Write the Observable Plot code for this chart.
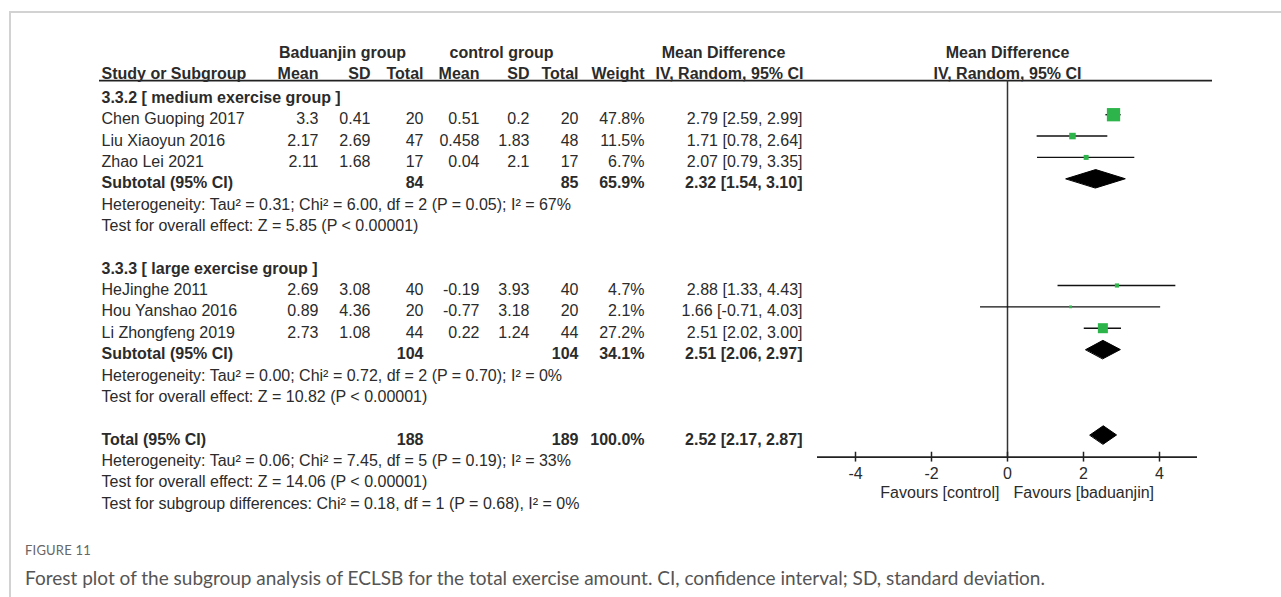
<!DOCTYPE html>
<html><head><meta charset="utf-8">
<script src="https://cdn.jsdelivr.net/npm/d3@7"></script>
<script src="https://cdn.jsdelivr.net/npm/@observablehq/plot@0.6"></script>
<style>
html,body{margin:0;padding:0;background:#fff;}
body{width:1281px;height:597px;overflow:hidden;position:relative;}
#frame{position:absolute;left:9px;top:11px;width:1290px;height:600px;border-top:2px solid #d2d2d2;border-left:2px solid #d2d2d2;}
#chart{position:absolute;left:0;top:0;}
#fig{position:absolute;left:25px;top:542px;font-family:Lato,"Open Sans",sans-serif;font-size:13px;color:#666;letter-spacing:0.2px;}
#cap{position:absolute;left:25px;top:566px;font-family:Lato,"Open Sans",sans-serif;font-size:19px;color:#555;white-space:nowrap;}
</style></head><body>
<div id="frame"></div>
<div id="chart"></div>
<div id="fig">FIGURE 11</div>
<div id="cap">Forest plot of the subgroup analysis of ECLSB for the total exercise amount. CI, confidence interval; SD, standard deviation.</div>
<script>
// ---------- data ----------
const subgroupLabels = ["3.3.2 [ medium exercise group ]", "3.3.3 [ large exercise group ]"];
const studies = ["Chen Guoping 2017", "Liu Xiaoyun 2016", "Zhao Lei 2021", "HeJinghe 2011", "Hou Yanshao 2016", "Li Zhongfeng 2019"];
const studyGroup = [0, 0, 0, 1, 1, 1];
const badMean = [3.3, 2.17, 2.11, 2.69, 0.89, 2.73];
const badSD = [0.41, 2.69, 1.68, 3.08, 4.36, 1.08];
const badTotal = [20, 47, 17, 40, 20, 44];
const conMean = [0.51, 0.458, 0.04, -0.19, -0.77, 0.22];
const conSD = [0.2, 1.83, 2.1, 3.93, 3.18, 1.24];
const conTotal = [20, 48, 17, 40, 20, 44];
const weight = [47.8, 11.5, 6.7, 4.7, 2.1, 27.2];
const md = [2.79, 1.71, 2.07, 2.88, 1.66, 2.51];
const mdLow = [2.59, 0.78, 0.79, 1.33, -0.71, 2.02];
const mdHigh = [2.99, 2.64, 3.35, 4.43, 4.03, 3.00];

const subBadTotal = [84, 104];
const subConTotal = [85, 104];
const subWeight = [65.9, 34.1];
const subMd = [2.32, 2.51];
const subLow = [1.54, 2.06];
const subHigh = [3.10, 2.97];
const subHet = [
  "Heterogeneity: Tau\u00B2 = 0.31; Chi\u00B2 = 6.00, df = 2 (P = 0.05); I\u00B2 = 67%",
  "Heterogeneity: Tau\u00B2 = 0.00; Chi\u00B2 = 0.72, df = 2 (P = 0.70); I\u00B2 = 0%"
];
const subTest = [
  "Test for overall effect: Z = 5.85 (P < 0.00001)",
  "Test for overall effect: Z = 10.82 (P < 0.00001)"
];
const totalBad = 188, totalCon = 189, totalWeight = 100.0;
const totalMd = 2.52, totalLow = 2.17, totalHigh = 2.87;
const totalNotes = [
  "Heterogeneity: Tau\u00B2 = 0.06; Chi\u00B2 = 7.45, df = 5 (P = 0.19); I\u00B2 = 33%",
  "Test for overall effect: Z = 14.06 (P < 0.00001)",
  "Test for subgroup differences: Chi\u00B2 = 0.18, df = 1 (P = 0.68), I\u00B2 = 0%"
];
const axisTicks = [-4, -2, 0, 2, 4];
const favours = ["Favours [control]", "Favours [baduanjin]"];
const groupHeaders = ["Baduanjin group", "control group", "Mean Difference"];
const colHeaders = ["Study or Subgroup", "Mean", "SD", "Total", "Mean", "SD", "Total", "Weight", "IV, Random, 95% CI"];
const forestHeaders = ["Mean Difference", "IV, Random, 95% CI"];

// ---------- layout ----------
const LEFT = 99;
const cols = {
  label: {x: 101, anchor: "start"},
  bMean: {x: 318, anchor: "end"},
  bSD: {x: 370, anchor: "end"},
  bTotal: {x: 423, anchor: "end"},
  cMean: {x: 479, anchor: "end"},
  cSD: {x: 529, anchor: "end"},
  cTotal: {x: 578, anchor: "end"},
  weight: {x: 644, anchor: "end"},
  ci: {x: 802, anchor: "end"},
  gBad: {x: 342, anchor: "middle"},
  gCon: {x: 501, anchor: "middle"},
  gMd: {x: 723, anchor: "middle"},
  hCi: {x: 729, anchor: "middle"}
};
const headerKeys = ["label","bMean","bSD","bTotal","cMean","cSD","cTotal","weight","hCi"];
const fmtCI = (m, l, h) => `${m.toFixed(2)} [${l.toFixed(2)}, ${h.toFixed(2)}]`;

// ---------- build rows ----------
const cells = [];   // {row, col, text, bold}
const studyRows = [];
const diamonds = [];
let r = 0;
cells.push({row: 0, col: "gBad", text: groupHeaders[0], bold: true, head: true});
cells.push({row: 0, col: "gCon", text: groupHeaders[1], bold: true, head: true});
cells.push({row: 0, col: "gMd", text: groupHeaders[2], bold: true, head: true});
colHeaders.forEach((t, i) => cells.push({row: 1, col: headerKeys[i], text: t, bold: true, head: true}));
r = 2;
subgroupLabels.forEach((g, gi) => {
  cells.push({row: r++, col: "label", text: g, bold: true});
  studies.forEach((s, i) => {
    if (studyGroup[i] !== gi) return;
    const vals = {label: s, bMean: String(badMean[i]), bSD: String(badSD[i]), bTotal: String(badTotal[i]),
      cMean: String(conMean[i]), cSD: String(conSD[i]), cTotal: String(conTotal[i]),
      weight: weight[i].toFixed(1) + "%", ci: fmtCI(md[i], mdLow[i], mdHigh[i])};
    for (const k in vals) cells.push({row: r, col: k, text: vals[k], bold: false});
    studyRows.push({row: r, md: md[i], lo: mdLow[i], hi: mdHigh[i], w: weight[i]});
    r++;
  });
  cells.push({row: r, col: "label", text: "Subtotal (95% CI)", bold: true});
  cells.push({row: r, col: "bTotal", text: String(subBadTotal[gi]), bold: true});
  cells.push({row: r, col: "cTotal", text: String(subConTotal[gi]), bold: true});
  cells.push({row: r, col: "weight", text: subWeight[gi].toFixed(1) + "%", bold: true});
  cells.push({row: r, col: "ci", text: fmtCI(subMd[gi], subLow[gi], subHigh[gi]), bold: true});
  diamonds.push({id: "s" + gi, row: r, md: subMd[gi], lo: subLow[gi], hi: subHigh[gi]});
  r++;
  cells.push({row: r++, col: "label", text: subHet[gi], bold: false});
  cells.push({row: r++, col: "label", text: subTest[gi], bold: false});
  r++; // blank row
});
cells.push({row: r, col: "label", text: "Total (95% CI)", bold: true});
cells.push({row: r, col: "bTotal", text: String(totalBad), bold: true});
cells.push({row: r, col: "cTotal", text: String(totalCon), bold: true});
cells.push({row: r, col: "weight", text: totalWeight.toFixed(1) + "%", bold: true});
cells.push({row: r, col: "ci", text: fmtCI(totalMd, totalLow, totalHigh), bold: true});
diamonds.push({id: "t", row: r, md: totalMd, lo: totalLow, hi: totalHigh});
r++;
totalNotes.forEach(t => cells.push({row: r++, col: "label", text: t, bold: false}));

const DH = 0.43;
const diamondPts = diamonds.flatMap(d => [
  {id: d.id, x: d.lo, y: d.row}, {id: d.id, x: d.md, y: d.row - DH},
  {id: d.id, x: d.hi, y: d.row}, {id: d.id, x: d.md, y: d.row + DH}
]);

const HEADER_LINE = 1.40;
const AXIS_ROW = 19.04;
const TEXT_COLOR = "#2b2b2b";
const FONT = 16;

// ---------- marks ----------
const textMarks = [];
for (const key in cols) {
  for (const bold of [true, false]) {
    for (const head of [true, false]) {
      const sub = cells.filter(c => c.col === key && !!c.bold === bold && !!c.head === head);
      if (!sub.length) continue;
      textMarks.push(Plot.text(sub, {
        y: "row", text: "text", frameAnchor: "left",
        dx: cols[key].x - LEFT, dy: head ? 2 : 4.5,
        textAnchor: cols[key].anchor, fontWeight: bold ? "bold" : "normal",
        fontSize: FONT, fill: TEXT_COLOR
      }));
    }
  }
}

const chart = Plot.plot({
  width: 1281, height: 520,
  marginLeft: LEFT, marginRight: 1281 - 1212, marginTop: 0, marginBottom: 0,
  x: {domain: [-5, 5], range: [817, 1197], axis: null},
  y: {domain: [0, 21], range: [50.15, 498.5], axis: null},
  r: {type: "sqrt", domain: [0, 47.8], range: [0, 7.5]},
  style: {fontFamily: "Arial, 'Liberation Sans', sans-serif", background: "transparent", overflow: "visible"},
  marks: [
    Plot.ruleY([HEADER_LINE], {stroke: "#222", strokeWidth: 1.8}),
    Plot.ruleX([0], {y1: HEADER_LINE, y2: AXIS_ROW, stroke: "#333", strokeWidth: 1.5}),
    Plot.ruleY([AXIS_ROW], {x1: -5, x2: 5, stroke: "#222", strokeWidth: 1.8}),
    Plot.ruleX(axisTicks, {x: d => d, y1: AXIS_ROW - 0.23, y2: AXIS_ROW + 0.23, stroke: "#222", strokeWidth: 1.5}),
    Plot.text(axisTicks, {x: d => d, y: 19.8, text: d => String(d), fontSize: FONT, fill: TEXT_COLOR}),
    Plot.text([favours[0]], {x: 0, y: 20.73, text: d => d, textAnchor: "end", dx: -8, fontSize: FONT, fill: TEXT_COLOR}),
    Plot.text([favours[1]], {x: 0, y: 20.73, text: d => d, textAnchor: "start", dx: 6, fontSize: FONT, fill: TEXT_COLOR}),
    Plot.text(forestHeaders, {x: 0, y: (d, i) => i, text: d => d, dy: 2, fontWeight: "bold", fontSize: FONT, fill: TEXT_COLOR}),
    Plot.ruleY(studyRows, {y: "row", x1: "lo", x2: "hi", stroke: "#111", strokeWidth: 1.4}),
    Plot.dot(studyRows, {x: "md", y: "row", r: "w", symbol: "square", fill: "#2db54b", stroke: null}),
    Plot.line(diamondPts, {x: "x", y: "y", z: "id", fill: "#000", stroke: "#000", strokeWidth: 1, curve: "linear-closed"}),
    ...textMarks
  ]
});
document.getElementById("chart").appendChild(chart);
</script>
</body></html>
